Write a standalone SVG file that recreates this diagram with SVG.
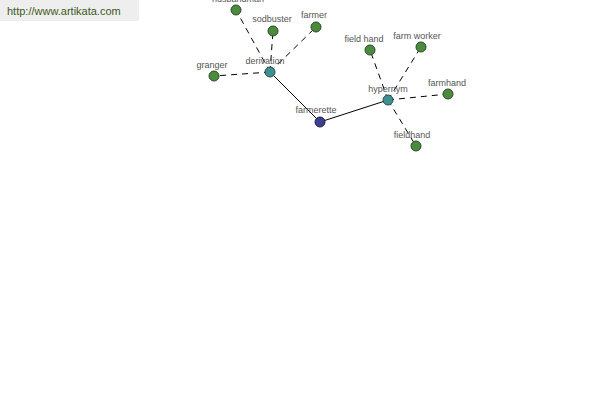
<svg xmlns="http://www.w3.org/2000/svg" width="600" height="400" viewBox="0 0 600 400">
<style>
.lbl{font-family:"Liberation Sans",Arial,sans-serif;font-size:9px;fill:#555;text-anchor:middle}
.leaf{fill:#4a8c3c;stroke:#2a4a2a;stroke-width:1}
.hub{fill:#3f9090;stroke:#2a4a4a;stroke-width:1}
.root{fill:#3a3f8f;stroke:#222244;stroke-width:1}
.d{stroke:#000;stroke-width:1;stroke-dasharray:6,5;fill:none}
.s{stroke:#000;stroke-width:1;fill:none}
</style>
<rect width="600" height="400" fill="#fff"/>
<g id="link">
<rect x="0" y="0" width="139" height="21" fill="#eeeeee"/>
<text x="7" y="15" style="font-family:'Liberation Sans',Arial,sans-serif;font-size:11px;fill:#3a5a1a">http://www.artikata.com</text>
</g>
<g id="connectors">
<line class="s" x1="270" y1="72" x2="320" y2="122"/>
<line class="s" x1="320" y1="122" x2="388" y2="100"/>
<line class="d" x1="270" y1="72" x2="236" y2="10"/>
<line class="d" x1="270" y1="72" x2="273" y2="31"/>
<line class="d" x1="270" y1="72" x2="316" y2="27"/>
<line class="d" x1="270" y1="72" x2="214" y2="76"/>
<line class="d" x1="388" y1="100" x2="370" y2="50"/>
<line class="d" x1="388" y1="100" x2="421" y2="47"/>
<line class="d" x1="388" y1="100" x2="448" y2="94"/>
<line class="d" x1="388" y1="100" x2="416" y2="146"/>
</g>
<g id="husbandman"><circle class="leaf" cx="236" cy="10" r="5"/><text class="lbl" x="238" y="2">husbandman</text></g>
<g id="sodbuster"><circle class="leaf" cx="273" cy="31" r="5"/><text class="lbl" x="272" y="22">sodbuster</text></g>
<g id="farmer"><circle class="leaf" cx="316" cy="27" r="5"/><text class="lbl" x="314" y="18">farmer</text></g>
<g id="granger"><circle class="leaf" cx="214" cy="76" r="5"/><text class="lbl" x="212" y="68">granger</text></g>
<g id="derivation"><circle class="hub" cx="270" cy="72" r="5"/><text class="lbl" x="265" y="64">derivation</text></g>
<g id="farmerette"><circle class="root" cx="320" cy="122" r="5"/><text class="lbl" x="316" y="113">farmerette</text></g>
<g id="hypernym"><circle class="hub" cx="388" cy="100" r="5"/><text class="lbl" x="388" y="92">hypernym</text></g>
<g id="field_hand"><circle class="leaf" cx="370" cy="50" r="5"/><text class="lbl" x="364" y="42">field hand</text></g>
<g id="farm_worker"><circle class="leaf" cx="421" cy="47" r="5"/><text class="lbl" x="417" y="39">farm worker</text></g>
<g id="farmhand"><circle class="leaf" cx="448" cy="94" r="5"/><text class="lbl" x="447" y="86">farmhand</text></g>
<g id="fieldhand"><circle class="leaf" cx="416" cy="146" r="5"/><text class="lbl" x="412" y="138">fieldhand</text></g>
</svg>
